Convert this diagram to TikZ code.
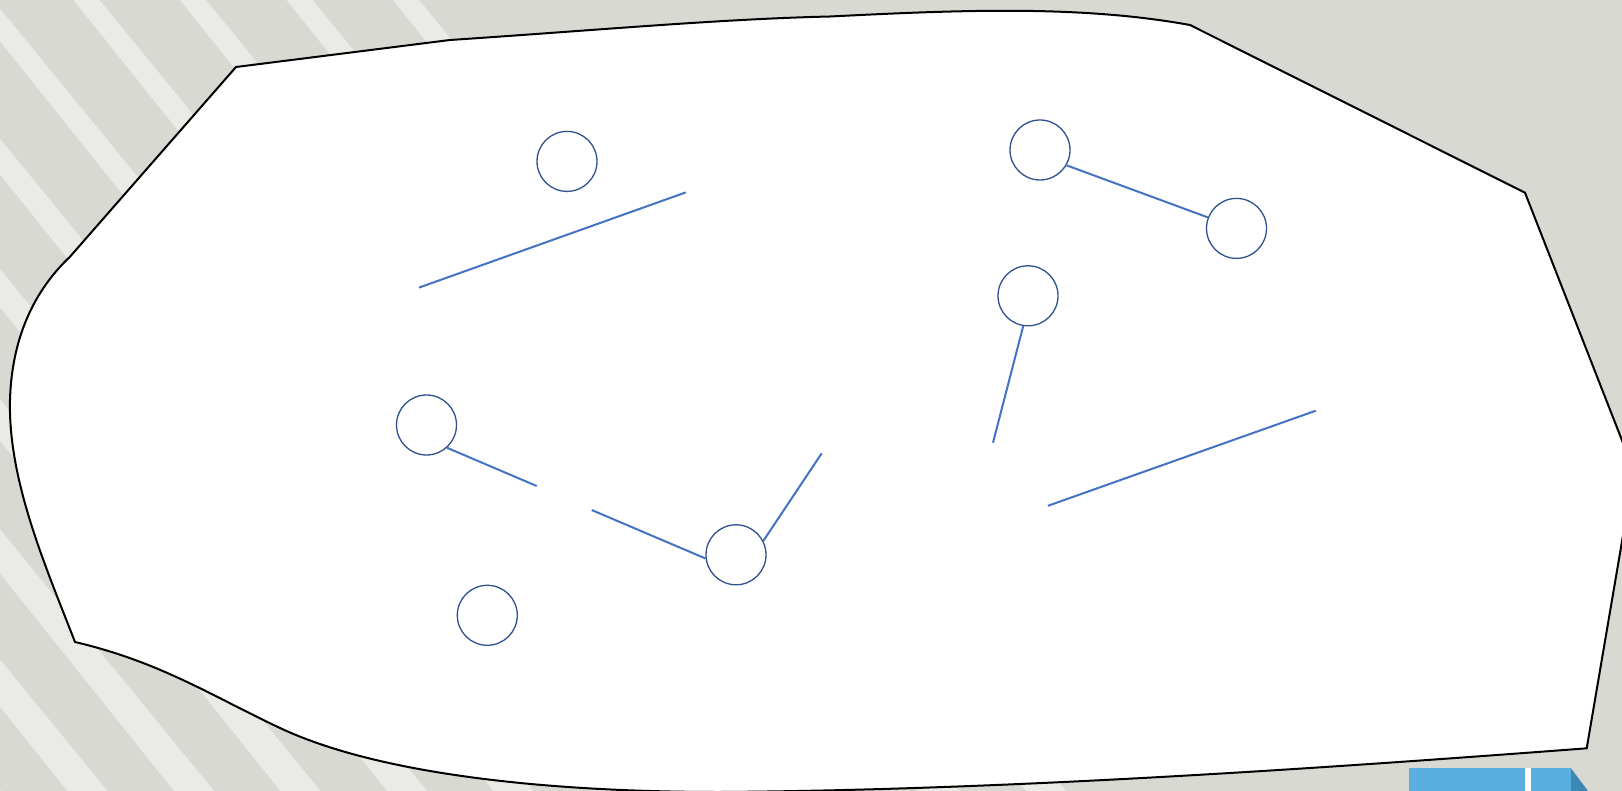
\documentclass[tikz,border=0pt]{standalone}
\usepackage{tikz}
\definecolor{slidegrey}{RGB}{217,217,212}
\definecolor{stripegrey}{RGB}{234,234,231}
\definecolor{vertexblue}{RGB}{47,82,143}
\definecolor{lineblue}{RGB}{68,114,196}
\definecolor{tabblue}{RGB}{91,175,224}
\definecolor{tabdark}{RGB}{60,136,180}
\tikzset{
  vertexcircle/.style={circle, draw=vertexblue, line width=1.3pt, fill=white, minimum size=60pt, inner sep=0pt},
  graphline/.style={lineblue, line width=2pt},
  outline/.style={draw=black, line width=2pt, fill=white}
}
\newcommand{\graphvertex}[2] {\node at (#1) (#2) [vertexcircle] {};}
\newcommand{\graphedge}[2] {\draw [graphline] (#1) -- (#2);}

\begin{document}
\begin{tikzpicture}[x=1pt, y=-1pt]

\useasboundingbox (0,0) rectangle (1622,791);
\clip (0,0) rectangle (1622,791);
\fill [slidegrey] (0,0) rectangle (1622,791);

\foreach \k in {0,...,10} {
  \pgfmathsetmacro{\c}{393-106.5*\k}
  \fill [stripegrey] (\c,0) -- ++(26,0) -- ++(647,791) -- ++(-40,0) -- cycle;
}

\fill [tabblue] (1409,768.3) rectangle (1525,795);
\fill [white] (1525,768.3) rectangle (1531,795);
\fill [tabblue] (1531,768.3) rectangle (1571,795);
\fill [tabdark] (1571,768.3) -- (1591,795) -- (1571,795) -- cycle;

\draw [outline] (236,67) -- (450,40) .. controls (600,30) and (720,19) .. (830,16.5)
  .. controls (960,10) and (1080,5) .. (1190,25) -- (1525,192.7) -- (1634,471) -- (1586.7,748.3)
  .. controls (1300,770) and (1000,790) .. (720,792)
  .. controls (550,792) and (380,775) .. (280,728)
  .. controls (210,695) and (160,662) .. (75,642)
  .. controls (45,565) and (8,480) .. (10,400)
  .. controls (12,330) and (40,285) .. (70,256.7)
  -- cycle;

\graphvertex {567,161.4}{v1}
\graphvertex {1040,150}{v2}
\graphvertex {1236.5,228.4}{v3}
\graphvertex {1028,295.8}{v4}
\graphvertex {426.5,425}{v5}
\graphvertex {736,554.8}{v6}
\graphvertex {487.3,615.3}{v7}

\coordinate (loose1a) at (419,287.6);
\coordinate (loose1b) at (685.8,192.4);
\graphedge {loose1a}{loose1b}

\graphedge {v2.-30}{v3.159}

\coordinate (v4end) at (993,442.7);
\graphedge {v4.-99}{v4end}

\coordinate (loose2a) at (1047.9,505.8);
\coordinate (loose2b) at (1315.8,410.7);
\graphedge {loose2a}{loose2b}

\coordinate (v5end) at (536.7,486);
\graphedge {v5.-48}{v5end}

\coordinate (v6left) at (591.7,510);
\graphedge {v6left}{v6.-173}

\coordinate (v6up) at (821.7,453.3);
\graphedge {v6.27}{v6up}

\end{tikzpicture}
\end{document}
